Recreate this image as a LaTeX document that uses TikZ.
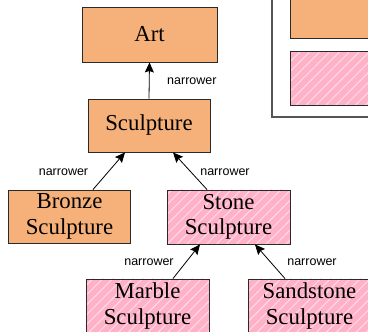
\documentclass[tikz,border=0pt]{standalone}
\usepackage{fontspec}
\setmainfont{Liberation Serif}
\setsansfont{Liberation Sans}
\usetikzlibrary{arrows.meta,patterns.meta}
\definecolor{orangebox}{HTML}{F6B17A}
\definecolor{pinkbox}{HTML}{FFB1C8}
\definecolor{hatch}{HTML}{FFDDE7}
\definecolor{edge}{HTML}{2A2A2A}
\tikzset{
  concept/.style={draw=edge, line width=0.9pt, minimum width=122pt, minimum height=53pt,
    inner sep=0pt, align=center, font=\fontsize{22.8}{25.5}\selectfont},
  orangec/.style={concept, fill=orangebox},
  pinkc/.style={concept, preaction={fill=pinkbox}, pattern={Lines[angle=45,distance=7pt,line width=1pt]}, pattern color=hatch},
  rel/.style={draw=black, line width=0.8pt, -{Stealth[length=10pt,width=9pt,inset=1.5pt]}},
  lbl/.style={font=\sffamily\fontsize{12.5}{14}\selectfont, inner sep=0pt},
}
\begin{document}
\begin{tikzpicture}[x=1pt,y=-1pt]
\useasboundingbox (0,0) rectangle (368,332);
\clip (0,0) rectangle (368,332);
\fill[white] (0,0) rectangle (368,332);
% legend
\draw[draw=edge!80, line width=1.2pt, fill=white] (272,-10) rectangle (400,117);
\node[orangec, anchor=north west, minimum width=110pt, minimum height=48pt] (legA) at (290,-10) {};
\node[pinkc, anchor=north west, minimum width=110pt, minimum height=54pt] (legB) at (290,51) {};
% concepts
\node[orangec, minimum width=135pt, minimum height=55pt] (art) at (149.5,34.5) {Art};
\node[orangec] (sculpture) at (149,125.5) {Sculpture};
\node[orangec] (bronze) at (69.5,216.5) {Bronze\\Sculpture};
\node[pinkc, minimum width=123pt, minimum height=54pt] (stone) at (228.5,217) {Stone\\Sculpture};
\node[pinkc, minimum width=123pt, minimum height=54pt] (marble) at (147.5,306) {Marble\\Sculpture};
\node[pinkc, minimum width=123pt, minimum height=54pt] (sandstone) at (309.5,306) {Sandstone\\Sculpture};
% relations
\draw[rel] (sculpture.north) -- (art.south);
\draw[rel] ([xshift=23.5pt]bronze.north) -- ([xshift=-24pt]sculpture.south);
\draw[rel] ([xshift=-21.5pt]stone.north) -- ([xshift=24pt]sculpture.south);
\draw[rel] ([xshift=25.5pt]marble.north) -- ([xshift=-28.5pt]stone.south);
\draw[rel] ([xshift=-24.5pt]sandstone.north) -- ([xshift=26.5pt]stone.south);
% labels
\node[lbl, anchor=west] (l1) at (167,81) {narrower};
\node[lbl] (l2) at (63.5,172) {narrower};
\node[lbl] (l3) at (225,172) {narrower};
\node[lbl] (l4) at (149,262) {narrower};
\node[lbl] (l5) at (312,262) {narrower};
\end{tikzpicture}
\end{document}
